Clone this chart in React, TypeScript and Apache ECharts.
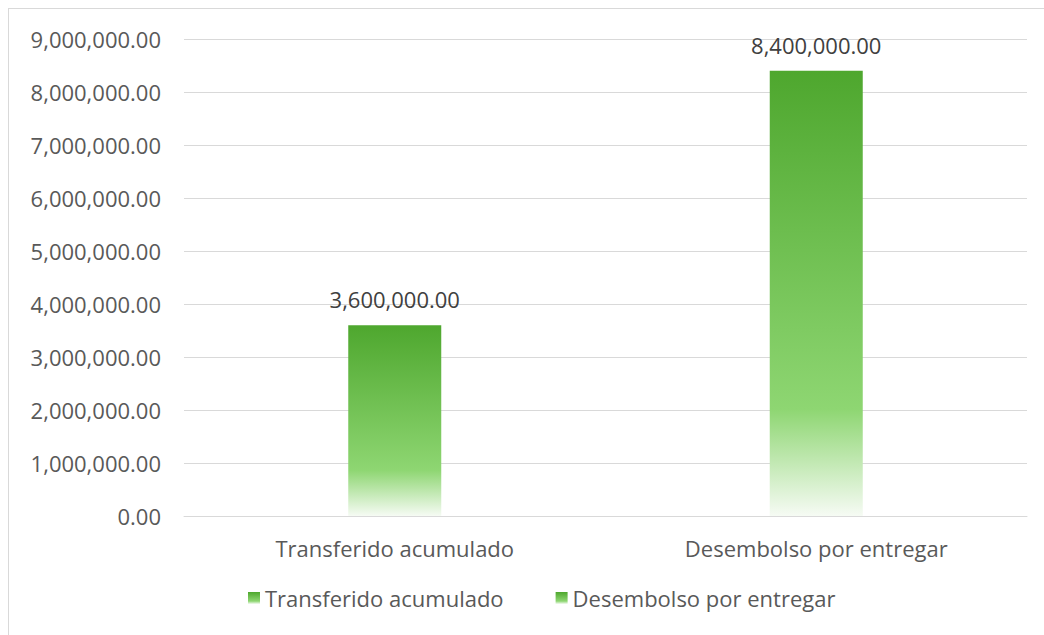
import React, { useEffect, useRef } from "react";
import * as echarts from "echarts";

const categories = ["Transferido acumulado", "Desembolso por entregar"];
const seriesNames = ["Transferido acumulado", "Desembolso por entregar"];
const transferido = [3600000, null];
const desembolso = [null, 8400000];
const yTicks = { min: 0, max: 9000000, interval: 1000000 };

const fmt = (v: number) =>
  v.toLocaleString("en-US", { minimumFractionDigits: 2, maximumFractionDigits: 2 });

const FONT = "'Open Sans', 'Noto Sans', sans-serif";
const FS = 22;

function barGradient() {
  return new echarts.graphic.LinearGradient(0, 0, 0, 1, [
    { offset: 0, color: "#4ea72e" },
    { offset: 0.76, color: "#8ed672" },
    { offset: 1, color: "#f6fbf4" },
  ]);
}

export default function App() {
  const ref = useRef<HTMLDivElement>(null);
  useEffect(() => {
    if (!ref.current) return;
    const chart = echarts.init(ref.current, undefined, { renderer: "svg" });
    const mk = (name: string, data: (number | null)[]) => ({
      name,
      type: "bar",
      stack: "all",
      barWidth: 93,
      data,
      itemStyle: { color: barGradient() },
      label: {
        show: true,
        position: "top",
        distance: 15,
        color: "#404040",
        fontSize: FS,
        fontFamily: FONT,
        formatter: (p: any) => fmt(p.value),
      },
    });
    chart.setOption({
      animation: false,
      textStyle: { fontFamily: FONT },
      grid: { left: 175, right: 17, top: 30, bottom: 119, containLabel: false },
      legend: {
        data: seriesNames,
        bottom: 21,
        left: 234,
        itemWidth: 12,
        itemHeight: 12,
        itemGap: 52,
        icon: "rect",
        textStyle: { color: "#595959", fontSize: FS, fontFamily: FONT },
      },
      xAxis: {
        type: "category",
        data: categories,
        axisLine: { lineStyle: { color: "#d9d9d9", width: 1 } },
        axisTick: { show: false },
        axisLabel: { color: "#595959", fontSize: FS, fontFamily: FONT, margin: 21 },
      },
      yAxis: {
        type: "value",
        min: yTicks.min,
        max: yTicks.max,
        interval: yTicks.interval,
        axisLine: { show: false },
        axisTick: { show: false },
        splitLine: { lineStyle: { color: "#d9d9d9", width: 1 } },
        axisLabel: {
          color: "#595959",
          fontSize: FS,
          fontFamily: FONT,
          margin: 23,
          formatter: (v: number) => fmt(v),
        },
      },
      series: [mk(seriesNames[0], transferido), mk(seriesNames[1], desembolso)],
    });
    return () => chart.dispose();
  }, []);
  return (
    <div
      ref={ref}
      style={{
        position: "fixed",
        left: 8,
        top: 8,
        width: 1036,
        height: 627,
        boxSizing: "border-box",
        borderLeft: "1px solid #d9d9d9",
        borderTop: "1px solid #d9d9d9",
        background: "#fff",
      }}
    />
  );
}
